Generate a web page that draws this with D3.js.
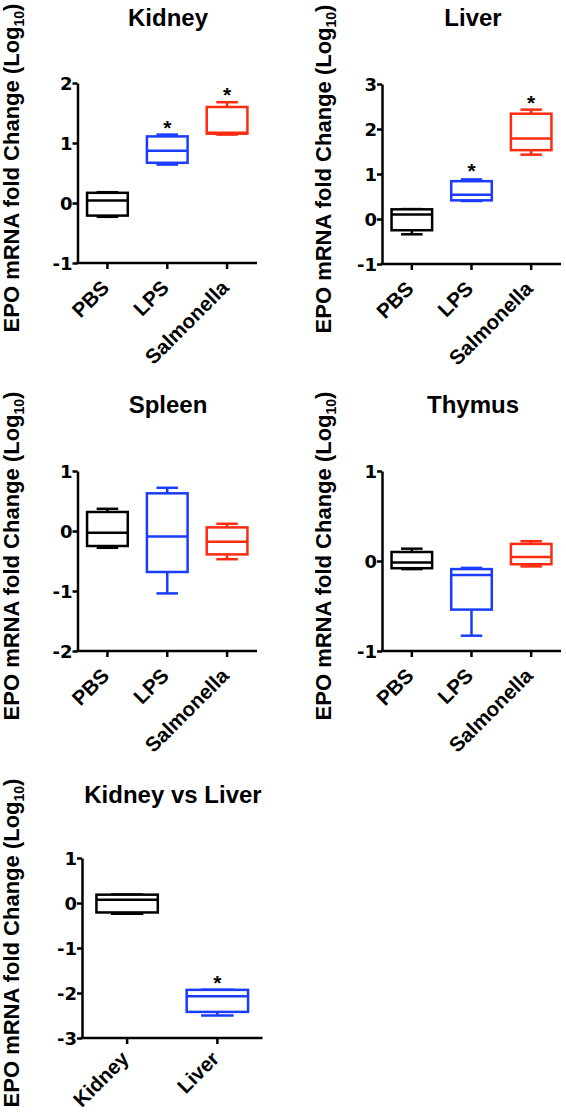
<!DOCTYPE html>
<html>
<head>
<meta charset="utf-8">
<script src="https://cdn.jsdelivr.net/npm/d3@7"></script>
<style>
  html, body { margin: 0; padding: 0; background: #fff; }
  svg { display: block; }
  text { font-family: "Liberation Sans", Arial, sans-serif; font-weight: bold; fill: #000; }
  .wide { font-family: "DejaVu Sans", "Liberation Sans", sans-serif; font-weight: bold; }
</style>
</head>
<body>
<svg id="chart" width="566" height="1113"></svg>
<script>
// ---------- DATA ----------
const treatments = ["PBS", "LPS", "Salmonella"];
const organs = ["Kidney", "Liver"];

const kidneyMin = [-0.23, 0.64, 1.14];
const kidneyQ1  = [-0.21, 0.67, 1.155];
const kidneyMed = [0.04, 0.87, 1.17];
const kidneyQ3  = [0.17, 1.11, 1.60];
const kidneyMax = [0.18, 1.14, 1.68];
const kidneyStar = [null, 1.34, 1.88];
const kidneyTicks = [-1, 0, 1, 2];

const liverMin = [-0.34, 0.40, 1.43];
const liverQ1  = [-0.25, 0.415, 1.53];
const liverMed = [0.10, 0.54, 1.79];
const liverQ3  = [0.215, 0.84, 2.34];
const liverMax = [0.22, 0.88, 2.43];
const liverStar = [null, 1.17, 2.70];
const liverTicks = [-1, 0, 1, 2, 3];

const spleenMin = [-0.28, -1.04, -0.47];
const spleenQ1  = [-0.25, -0.683, -0.39];
const spleenMed = [-0.03, -0.09, -0.18];
const spleenQ3  = [0.317, 0.628, 0.06];
const spleenMax = [0.37, 0.72, 0.12];
const spleenStar = [null, null, null];
const spleenTicks = [-2, -1, 0, 1];

const thymusMin = [-0.09, -0.83, -0.06];
const thymusQ1  = [-0.08, -0.54, -0.036];
const thymusMed = [-0.018, -0.155, 0.045];
const thymusQ3  = [0.10, -0.09, 0.19];
const thymusMax = [0.137, -0.077, 0.22];
const thymusStar = [null, null, null];
const thymusTicks = [-1, 0, 1];

const kvlMin = [-0.24, -2.50];
const kvlQ1  = [-0.21, -2.42];
const kvlMed = [0.07, -2.07];
const kvlQ3  = [0.185, -1.93];
const kvlMax = [0.19, -1.93];
const kvlStar = [null, -1.67];
const kvlTicks = [-3, -2, -1, 0, 1];

const treatmentColors = ["#000000", "#1a3cff", "#ff2a10"];
const organColors = ["#000000", "#1a3cff"];

const yLabelText = "EPO mRNA fold Change (Log";
const yLabelSub = "10";

// ---------- LAYOUT ----------
const panels = [
  {title: "Kidney", cats: treatments, colors: treatmentColors, min: kidneyMin, q1: kidneyQ1, med: kidneyMed, q3: kidneyQ3, max: kidneyMax, star: kidneyStar, ticks: kidneyTicks,
   x0: 77.5, x1: 257, yTop: 83, yBot: 263, titleX: 168, titleY: 26, labelX: 19, catDy: 26},
  {title: "Liver", cats: treatments, colors: treatmentColors, min: liverMin, q1: liverQ1, med: liverMed, q3: liverQ3, max: liverMax, star: liverStar, ticks: liverTicks,
   x0: 382, x1: 561, yTop: 84, yBot: 264, titleX: 473, titleY: 26, labelX: 331, catDy: 26},
  {title: "Spleen", cats: treatments, colors: treatmentColors, min: spleenMin, q1: spleenQ1, med: spleenMed, q3: spleenQ3, max: spleenMax, star: spleenStar, ticks: spleenTicks,
   x0: 77.5, x1: 257, yTop: 471, yBot: 651, titleX: 168, titleY: 413, labelX: 19, catDy: 26},
  {title: "Thymus", cats: treatments, colors: treatmentColors, min: thymusMin, q1: thymusQ1, med: thymusMed, q3: thymusQ3, max: thymusMax, star: thymusStar, ticks: thymusTicks,
   x0: 382, x1: 561, yTop: 471, yBot: 651, titleX: 473, titleY: 413, labelX: 331, catDy: 26},
  {title: "Kidney vs Liver", cats: organs, colors: organColors, min: kvlMin, q1: kvlQ1, med: kvlMed, q3: kvlQ3, max: kvlMax, star: kvlStar, ticks: kvlTicks,
   x0: 82, x1: 262.5, yTop: 858, yBot: 1038, titleX: 173, titleY: 803, labelX: 19, catDy: 22}
];

const svg = d3.select("#chart");
const SW = 2.5;
const fmt = d => String(d).replace("\u2212", "-");

panels.forEach(p => {
  const g = svg.append("g");
  const x = d3.scaleBand().domain(p.cats).range([p.x0, p.x1]);
  const y = d3.scaleLinear().domain(d3.extent(p.ticks)).range([p.yBot, p.yTop]);
  const bw = x.bandwidth() * 0.68;
  const cw = bw * 0.53;

  // title
  g.append("text").attr("x", p.titleX).attr("y", p.titleY)
    .attr("text-anchor", "middle").style("font-size", "24px").text(p.title);

  // y label
  const cy = (p.yTop + p.yBot) / 2 - 5;
  const yl = g.append("text")
    .attr("transform", `translate(${p.labelX},${cy}) rotate(-90)`)
    .attr("text-anchor", "middle").style("font-size", "22px");
  yl.append("tspan").text(yLabelText);
  yl.append("tspan").attr("dy", 5).style("font-size", "14px").text(yLabelSub);
  yl.append("tspan").attr("dy", -5).text(")");

  // axes
  const ya = g.append("g").attr("transform", `translate(${p.x0},0)`)
    .call(d3.axisLeft(y).tickValues(p.ticks).tickFormat(fmt).tickSize(5).tickSizeOuter(0).tickPadding(0));
  ya.selectAll("text").attr("class", "wide").style("font-size", "18px").attr("dy", "0.37em");
  const xa = g.append("g").attr("transform", `translate(0,${p.yBot})`)
    .call(d3.axisBottom(x).tickSize(6).tickSizeOuter(0));
  xa.selectAll("text").remove();
  [ya, xa].forEach(a => {
    a.select(".domain").attr("stroke", "#000").attr("stroke-width", SW);
    a.selectAll(".tick line").attr("stroke", "#000").attr("stroke-width", SW);
  });
  xa.select(".domain").attr("d", `M${p.x0 - SW/2},0H${p.x1}`);

  // category labels
  p.cats.forEach(c => {
    g.append("text")
      .attr("transform", `translate(${x(c) + x.bandwidth()/2 + 3},${p.yBot + p.catDy}) rotate(-45)`)
      .attr("text-anchor", "end").style("font-size", "20.5px").text(c);
  });

  // boxes
  p.cats.forEach((c, i) => {
    const cx = x(c) + x.bandwidth() / 2;
    const col = p.colors[i];
    const bg = g.append("g").attr("stroke", col).attr("stroke-width", SW).attr("fill", "none");
    bg.append("line").attr("x1", cx).attr("x2", cx).attr("y1", y(p.q3[i])).attr("y2", y(p.max[i]));
    bg.append("line").attr("x1", cx).attr("x2", cx).attr("y1", y(p.q1[i])).attr("y2", y(p.min[i]));
    bg.append("line").attr("x1", cx - cw/2).attr("x2", cx + cw/2).attr("y1", y(p.max[i])).attr("y2", y(p.max[i]));
    bg.append("line").attr("x1", cx - cw/2).attr("x2", cx + cw/2).attr("y1", y(p.min[i])).attr("y2", y(p.min[i]));
    bg.append("rect").attr("x", cx - bw/2).attr("width", bw)
      .attr("y", y(p.q3[i])).attr("height", y(p.q1[i]) - y(p.q3[i])).attr("fill", "#fff");
    bg.append("line").attr("x1", cx - bw/2).attr("x2", cx + bw/2).attr("y1", y(p.med[i])).attr("y2", y(p.med[i]));
    if (p.star[i] !== null) {
      g.append("text").attr("x", cx).attr("y", y(p.star[i]) + 12)
        .attr("text-anchor", "middle").style("font-size", "21px").text("*");
    }
  });
});
</script>
</body>
</html>
